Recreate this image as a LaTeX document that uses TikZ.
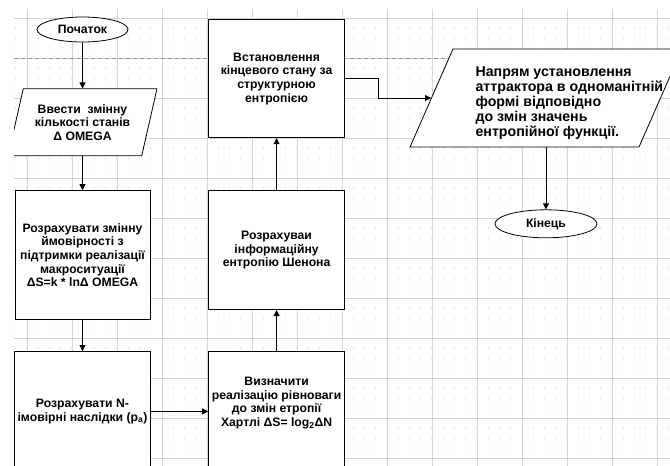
\documentclass[tikz,border=0pt]{standalone}
\usepackage{fontspec}
\setmainfont{Liberation Sans}
\usetikzlibrary{shapes.geometric, arrows.meta, positioning}
\definecolor{gridgray}{RGB}{212,212,212}
\definecolor{dotgray}{RGB}{226,226,226}
\definecolor{breakgray}{RGB}{150,150,150}

\begin{document}
\begin{tikzpicture}[
    x=1pt, y=-1pt,
    arr/.style={-{Triangle[length=6pt, width=6pt]}, line width=0.8pt},
    box/.style={draw, line width=0.8pt, fill=white, align=center,
                font=\fontsize{12.2}{13.6}\selectfont\bfseries},
    term/.style={box, ellipse},
    datain/.style={box, trapezium, trapezium stretches=true}
  ]
    \useasboundingbox (0,0) rectangle (670,466);
    \clip (14,9) rectangle (670,466);

    % grid of the sheet
    \foreach \i in {0,...,14}
      \draw[gridgray, line width=0.9pt] (27+45*\i,9) -- (27+45*\i,466);
    \foreach \j in {0,...,11}
      \draw[gridgray, line width=0.9pt] (14,18+40*\j) -- (670,18+40*\j);
    \foreach \j in {0,...,10}
      \foreach \k in {1,2,3}
        \draw[dotgray, line width=1.2pt, dash pattern=on 1.2pt off 10.05pt]
          (15.15,18+40*\j+10*\k) -- (670,18+40*\j+10*\k);
    \draw[breakgray, line width=0.8pt, dash pattern=on 4pt off 3pt]
      (14,58) -- (670,58);

    \node[term, minimum width=91pt, minimum height=25pt, inner sep=1pt]
      (start) at (82.5,29.5) {Початок};
    \node[datain, trapezium left angle=73, trapezium right angle=107,
          minimum width=149pt, minimum height=67pt, below=46pt of start]
      (input) {Ввести~ змінну\\кількості станів\\Δ OMEGA};
    \node[box, minimum width=135pt, minimum height=129pt, below=34pt of input]
      (calc) {Розрахувати змінну\\ймовірності з\\підтримки реалізації\\макроситуації\\ΔS=k * lnΔ OMEGA};
    \node[box, minimum width=135pt, minimum height=120pt, below=31pt of calc]
      (outcomes) {Розрахувати N-\\імовірні наслідки (p\textsubscript{a})};
    \node[box, minimum width=136pt, minimum height=120pt, right=57pt of outcomes]
      (hartley) {Визначити\\реалізацію рівноваги\\до змін етропії\\Хартлі ΔS= log\textsubscript{2}ΔN\\[6pt]};
    \node[box, minimum width=136pt, minimum height=119pt, above=41pt of hartley]
      (shannon) {Розрахуваи\\інформаційну\\ентропію Шенона};
    \node[box, minimum width=136pt, minimum height=118pt, above=52pt of shannon]
      (final) {Встановлення\\кінцевого стану за\\структурною\\ентропією};
    \node[datain, trapezium left angle=77, trapezium right angle=103,
          minimum width=272pt, minimum height=98pt]
      (attractor) at (546,98) {};
    \node[anchor=west, align=left, font=\fontsize{14.2}{15.2}\selectfont\bfseries]
      (attractortext) at (472,103)
      {Напрям установлення\\аттрактора в одноманітній\\формі відповідно\\до змін значень\\ентропійної функції.};
    \node[term, minimum width=102pt, minimum height=28pt, inner sep=1pt,
          below=62pt of attractor]
      (end) {Кінець};

    \draw[arr] (start) -- (input);
    \draw[arr] (input) -- (calc);
    \draw[arr] (calc) -- (outcomes);
    \draw[arr] (outcomes) -- (hartley);
    \draw[arr] (hartley) -- (shannon);
    \draw[arr] (shannon) -- (final);
    \draw[arr] (final.east) -- ++(33,0) |- (attractor);
    \draw[arr] (attractor) -- (end);
\end{tikzpicture}
\end{document}
